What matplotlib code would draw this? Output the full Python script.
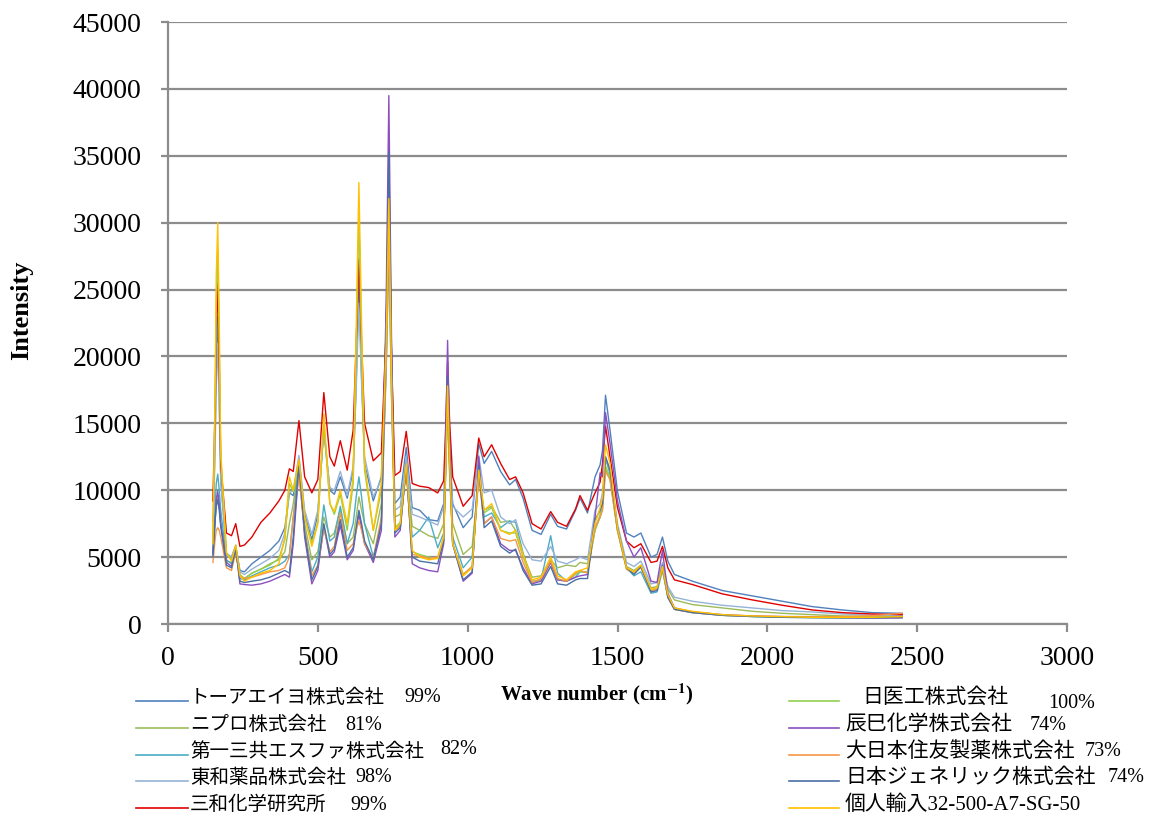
import matplotlib
matplotlib.use("Agg")
import matplotlib.pyplot as plt
from matplotlib.lines import Line2D

# ---------------- data ----------------
wavenumber = [150, 158, 161, 166, 171, 176, 195, 212, 226, 240, 255, 280, 310, 340, 370, 390, 405, 418,
              437, 456, 480, 500, 520, 540, 555, 575, 598, 618, 628, 637, 646, 656, 685, 712, 728, 737, 746, 757,
              775, 795, 815, 840, 870, 900, 920, 927, 933, 940, 950, 985, 1015, 1037, 1055, 1080, 1110,
              1140, 1160, 1185, 1215, 1245, 1277, 1300, 1330, 1360, 1375, 1400, 1425, 1442,
              1450, 1460, 1475, 1500, 1530, 1555, 1578, 1612, 1632, 1650, 1668, 1690, 1750,
              1850, 1950, 2050, 2150, 2250, 2350, 2450]

toa_eiyo = [5200, 15000, 19000, 23000, 17500, 11000, 5200, 5000, 5800, 4000, 3900, 4500, 5000, 5500, 6200, 7200, 9800, 9600,
            12400, 8200, 6300, 8200, 14600, 10000, 9700, 11000, 9400, 11500, 18000, 26000, 18500, 12000, 9200, 11000, 22000, 33000, 20000, 9000,
            9500, 13200, 8700, 8500, 7800, 7700, 9000, 13000, 18000, 13000, 9000, 7200, 8000, 13500, 12000, 12900, 11400,
            10400, 10800, 9400, 7000, 6700, 8200, 7300, 7100, 8500, 9400, 8300, 11000, 11900,
            13000, 17100, 14500, 9900, 6800, 6500, 6800, 5000, 5200, 6500, 4700, 3700, 3200,
            2500, 2100, 1700, 1300, 1050, 850, 800]

nipro = [5200, 8000, 9000, 9500, 8800, 7500, 4700, 4600, 5600, 3600, 3400, 3800, 4100, 4500, 4800, 5400, 7500, 9000,
         12000, 7500, 4800, 5400, 8000, 6500, 6800, 8600, 6000, 6500, 8000, 9500, 8500, 7500, 6000, 9000, 19000, 28000, 17000, 8000,
         8200, 11500, 7300, 7000, 6600, 6400, 7500, 12000, 17000, 12000, 7500, 5200, 5800, 11000, 8500, 8800, 7600,
         7700, 7000, 5200, 3500, 3600, 4800, 4200, 4400, 4300, 4600, 4500, 7000, 8000,
         8600, 11600, 10800, 7000, 4300, 4000, 4400, 2700, 2800, 4300, 2600, 1800, 1450,
         1200, 950, 800, 700, 600, 550, 550]

daiichi_sankyo_espha = [5300, 9000, 10500, 11200, 10000, 8500, 4800, 4500, 5700, 3400, 3300, 3600, 3900, 4200, 4400, 4700, 5200, 8000,
                        12000, 7000, 3900, 5000, 8900, 6200, 6500, 8800, 6000, 7500, 9500, 11000, 9500, 7500, 5000, 7500, 19000, 28500, 17000, 7000,
                        7400, 11500, 6500, 7000, 8000, 5700, 6800, 11500, 16500, 11000, 6500, 4200, 5000, 11300, 8000, 8300, 7200,
                        7700, 7600, 5300, 3100, 3300, 6600, 3800, 3200, 3500, 3900, 3900, 7200, 8000,
                        9000, 12400, 11200, 7000, 4200, 3600, 3900, 2300, 2400, 4000, 2000, 1100, 850,
                        650, 560, 500, 480, 470, 460, 500]

towa = [7700, 14000, 18000, 21000, 16000, 10500, 5300, 5000, 5900, 3900, 3700, 4100, 4500, 4900, 5500, 6800, 9800, 10000,
        12600, 8500, 6700, 8500, 14400, 10200, 10000, 11400, 9600, 11800, 17500, 24000, 18000, 12500, 9500, 10800, 21000, 30000, 18500, 8500,
        8800, 12500, 8200, 8000, 7700, 7400, 8800, 13000, 17500, 13000, 8800, 8000, 8600, 12600, 9800, 10000, 8000,
        7500, 7800, 6000, 4800, 4700, 5800, 4700, 4500, 4800, 5000, 4800, 8500, 9000,
        9800, 12500, 11500, 7500, 4600, 4300, 4700, 3000, 3100, 4600, 2800, 2000, 1700,
        1400, 1200, 1000, 900, 750, 650, 650]

sanwa = [9200, 17000, 22000, 25500, 19500, 12000, 6800, 6600, 7500, 5800, 5900, 6500, 7600, 8300, 9200, 10000, 11600, 11400,
         15200, 11000, 9800, 10800, 17300, 12500, 11800, 13700, 11500, 14500, 21000, 27300, 21000, 15000, 12200, 12800, 22000, 29600, 20000, 11100,
         11400, 14400, 10500, 10300, 10200, 9800, 10700, 15000, 19600, 15000, 11000, 8800, 9600, 13900, 12500, 13400, 12000,
         10800, 11000, 9800, 7500, 7100, 8400, 7600, 7300, 8600, 9600, 8500, 9800, 10600,
         12000, 14800, 12500, 8700, 6200, 5700, 6000, 4600, 4700, 5800, 4200, 3300, 2950,
         2250, 1800, 1400, 1050, 850, 750, 700]

nichiiko = [6000, 18000, 24000, 28000, 21000, 12500, 5300, 4800, 5800, 3700, 3400, 3800, 4100, 4400, 4900, 6300, 10500, 9900,
            12100, 8000, 6000, 7600, 15000, 9000, 8200, 9700, 7000, 10500, 20500, 30600, 20500, 11500, 7000, 10000, 20500, 30500, 18500, 7200,
            7600, 11800, 5400, 5200, 5000, 4900, 6300, 11500, 17000, 11500, 6000, 3700, 4300, 11200, 8300, 8700, 7000,
            6800, 6800, 5000, 3200, 3300, 4600, 3300, 3200, 3700, 3900, 3900, 7000, 8200,
            9000, 11800, 11000, 7000, 4100, 3800, 4300, 2500, 2600, 4100, 2100, 1100, 900,
            650, 560, 520, 480, 470, 460, 500]

tatsumi = [5300, 8000, 9300, 9900, 9000, 7500, 4600, 4300, 5700, 3000, 2950, 2900, 3000, 3200, 3500, 3700, 3500, 6000,
           11700, 6500, 3000, 4000, 7300, 5000, 5400, 7400, 4800, 5500, 7000, 8200, 7200, 6000, 4600, 7000, 24000, 39500, 21000, 6500,
           7000, 12000, 4500, 4200, 4000, 3900, 6000, 14000, 21200, 13500, 6000, 3200, 3800, 12500, 7500, 8000, 6000,
           5500, 5500, 4200, 3000, 3200, 4600, 3300, 3200, 3500, 3600, 3700, 8000, 11300,
           11000, 15800, 13500, 9200, 6200, 5000, 5700, 3200, 3100, 5500, 2300, 1200, 900,
           700, 600, 550, 500, 480, 450, 450]

dainippon_sumitomo = [4600, 6500, 7000, 7200, 7000, 6500, 4200, 4000, 5400, 3600, 3400, 3500, 3700, 3900, 4000, 4200, 5000, 8000,
                      11000, 7000, 3600, 4400, 7100, 5400, 5800, 8300, 5500, 6000, 7000, 7700, 7000, 6000, 4900, 8000, 19500, 30000, 17500, 7000,
                      7300, 11600, 5200, 5100, 4900, 5000, 6500, 12000, 17000, 11500, 6000, 3700, 4300, 11000, 7500, 8000, 6400,
                      6200, 6300, 4600, 3100, 3400, 4700, 3400, 3200, 3800, 4000, 3800, 7200, 8000,
                      8500, 11400, 10800, 7000, 4100, 3800, 4200, 2500, 2600, 4200, 2000, 1100, 850,
                      650, 580, 560, 550, 560, 620, 800]

nihon_generic = [5000, 8000, 8800, 9300, 8500, 7300, 4400, 4200, 5600, 3200, 3100, 3200, 3300, 3500, 3800, 4000, 3800, 6500,
                 12000, 6800, 3300, 4300, 7500, 5200, 5600, 7800, 5000, 5700, 7200, 8500, 7500, 6200, 4800, 7500, 22000, 35300, 20000, 6800,
                 7200, 11800, 5000, 4700, 4600, 4500, 6200, 12500, 18500, 12000, 6000, 3300, 3900, 11800, 7200, 7700, 5800,
                 5300, 5600, 4000, 2900, 3000, 4300, 3000, 2900, 3300, 3400, 3400, 7800, 8500,
                 9000, 12500, 11500, 7200, 4200, 3700, 4300, 2400, 2500, 4400, 2000, 1100, 850,
                 650, 560, 500, 480, 470, 470, 500]

kojin_yunyu = [6000, 19000, 26000, 30000, 22500, 13000, 5300, 4700, 5900, 3600, 3200, 3500, 3800, 4000, 4500, 6500, 11000, 10000,
               12300, 8000, 5800, 7500, 15700, 9000, 8400, 10000, 7500, 11000, 22000, 33000, 22500, 12000, 7000, 10500, 21000, 31800, 18500, 7000,
               7500, 12000, 5500, 5000, 4800, 4900, 6500, 12000, 17800, 12000, 6000, 3600, 4200, 11500, 8500, 9000, 7000,
               6700, 7000, 5200, 3300, 3500, 5000, 3600, 3300, 3900, 4000, 4200, 7500, 8700,
               9500, 13400, 12000, 7200, 4200, 3900, 4400, 2600, 2700, 4300, 2200, 1200, 950,
               700, 600, 550, 500, 500, 500, 550]

series_names = ["トーアエイヨ株式会社", "ニプロ株式会社", "第一三共エスファ株式会社", "東和薬品株式会社",
                "三和化学研究所", "日医工株式会社", "辰巳化学株式会社", "大日本住友製薬株式会社",
                "日本ジェネリック株式会社", "個人輸入32-500-A7-SG-50"]
series_percent = ["99%", "81%", "82%", "98%", "99%", "100%", "74%", "73%", "74%", ""]
series_values = [toa_eiyo, nipro, daiichi_sankyo_espha, towa, sanwa,
                 nichiiko, tatsumi, dainippon_sumitomo, nihon_generic, kojin_yunyu]
series_colors = ["#4F81BD", "#9BBB59", "#4BACC6", "#95B3D7", "#E00000",
                 "#92D050", "#8B4FC0", "#F79646", "#4A6FA5", "#FFC000"]

x_ticks = [0, 500, 1000, 1500, 2000, 2500, 3000]
y_ticks = [0, 5000, 10000, 15000, 20000, 25000, 30000, 35000, 40000, 45000]

# ---------------- figure ----------------
W, H = 1158, 818
fig = plt.figure(figsize=(W / 100, H / 100), dpi=100)
ax = fig.add_axes([168 / W, 1 - 624 / H, (1067 - 168) / W, (624 - 22) / H])

serif = ["Liberation Serif", "Noto Sans CJK JP", "DejaVu Sans"]
plt.rcParams["mathtext.fontset"] = "stix"

for vals, col in zip(series_values, series_colors):
    ax.plot(wavenumber, vals, color=col, lw=1.0, solid_joinstyle="round")

ax.set_xlim(0, 3000)
ax.set_ylim(0, 45000)
ax.set_xticks(x_ticks)
ax.set_yticks(y_ticks)
ax.set_xticklabels([str(t) for t in x_ticks], family=serif, fontsize=20)
ax.set_yticklabels([str(t) for t in y_ticks], family=serif, fontsize=20)
ax.grid(axis="y", color="#8C8C8C", lw=1.6)
ax.set_axisbelow(True)
for s in ["top", "right"]:
    ax.spines[s].set_visible(False)
for s in ["left", "bottom"]:
    ax.spines[s].set_color("#8C8C8C")
    ax.spines[s].set_linewidth(1.6)
ax.tick_params(axis="x", direction="out", length=6, width=1.6, color="#8C8C8C", pad=10)
ax.tick_params(axis="y", direction="out", length=5, width=1.6, color="#8C8C8C", pad=14)

fig.text(22 / W, 1 - 310 / H, "Intensity", family=serif, fontsize=19, fontweight="bold",
         rotation=90, ha="center", va="center")
fig.text(597 / W, 1 - 694 / H, r"Wave number (cm$^{\mathbf{-1}}$)", family=serif,
         fontsize=15, fontweight="bold", ha="center", va="center")

# ---------------- legend (two columns, drawn manually) ----------------
rows_y = [701, 728, 755, 781, 808]
left_pct_x = [404, 345, 440, 355, 350]
right_pct_x = [1048, 1030, 1085, 1108, None]
for i in range(10):
    col = i // 5
    r = i % 5
    y = rows_y[r]
    if col == 0:
        x0, x1, tx, fs = 136, 188, 190, 14
        px = left_pct_x[r]
    else:
        x0, x1, tx, fs = 789, 839, 845, 15
        px = right_pct_x[r]
    fig.add_artist(Line2D([x0 / W, x1 / W], [1 - y / H, 1 - y / H],
                          color=series_colors[i], lw=1.2, transform=fig.transFigure))
    if i == 5:
        tx = 862
    fig.text(tx / W, 1 - (y - 3) / H, series_names[i], family=serif, fontsize=fs,
             ha="left", va="center")
    if series_percent[i] and px is not None:
        dy = -3
        if i == 5:
            dy = 3
        if i == 2:
            dy = -5
        fig.text(px / W, 1 - (y + dy) / H, series_percent[i], family=serif, fontsize=14.5,
                 ha="left", va="center")

fig.savefig("out.png", dpi=100)
